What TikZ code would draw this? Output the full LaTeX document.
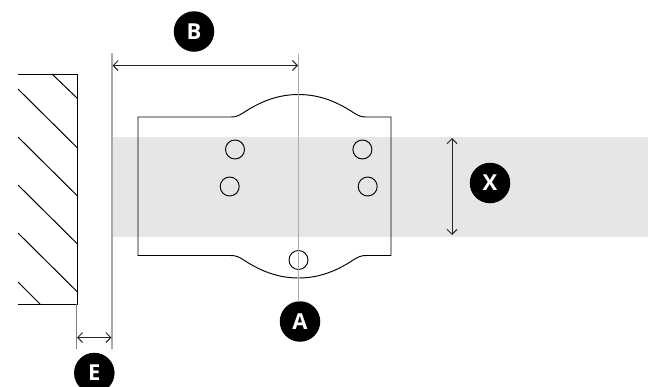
\documentclass[tikz,border=0pt]{standalone}
\usepackage{fontspec}
\setmainfont{Open Sans}
\usetikzlibrary{arrows.meta}
\definecolor{bandgray}{HTML}{E5E6E8}
\tikzset{
  hatchline/.style={draw=black,line width=1pt},
  plate/.style={draw=black,line width=0.95pt},
  guide/.style={draw=black!33,line width=1.1pt},
  guidethin/.style={draw=black!50,line width=0.7pt},
  dimline/.style={draw=black!85,line width=1pt,{Straight Barb[length=5pt,width=10pt,line width=0.9pt]}-{Straight Barb[length=5pt,width=10pt,line width=0.9pt]}},
  hole/.style={circle,draw=black,line width=0.95pt,minimum size=19pt,inner sep=0pt},
  badge/.style={circle,fill=black,text=white,minimum size=40.5pt,inner sep=0pt,font=\fontsize{22}{22}\selectfont\bfseries},
}
\begin{document}
\begin{tikzpicture}[x=1pt,y=-1pt]
\useasboundingbox (0,0) rectangle (648,386);
\fill[bandgray] (112,137) rectangle (648,237);
% wall
\draw[hatchline] (18,74) -- (77,74) -- (77,304) -- (18,304);
\draw[hatchline] (52,74) -- (77,98);
\foreach \y in {89,137,185,233} \draw[hatchline] (18,\y) -- (77,\y+58.5);
\draw[hatchline] (18,282) -- (40,304);
% plate
\draw[plate] (138,117) -- (231,117)
  .. controls (236,117) and (239,115.5) .. (243,113)
  .. controls (258,103) and (276,94.5) .. (298.5,94.5)
  .. controls (321,94.5) and (339,103) .. (354,113)
  .. controls (358,115.5) and (361,117) .. (366,117)
  -- (391,117) -- (391,255.5) -- (366,255.5)
  .. controls (361,255.5) and (358,257) .. (354,259.5)
  .. controls (339,269.5) and (321,278) .. (298.5,278)
  .. controls (276,278) and (258,269.5) .. (243,259.5)
  .. controls (239,257) and (236,255.5) .. (231,255.5)
  -- (138,255.5) -- cycle;
% guides
\coordinate (gt) at (112,53); \coordinate (gb) at (112,349);
\coordinate (ct) at (298.5,54); \coordinate (et) at (76.8,304); \coordinate (eb) at (76.8,349);
\draw[guide] (gt) -- (gb);
\draw[guidethin] (et) -- (eb);
% holes
\node[hole] (h1) at (235,149.5) {};
\node[hole] (h2) at (229.7,186.5) {};
\node[hole] (h3) at (362.4,149.5) {};
\node[hole] (h4) at (367.7,186.5) {};
\node[hole] (h5) at (298.5,260) {};
% badges
\node[badge] (A) at (300,321.5) {A};
\node[badge] (B) at (194,31.5) {B};
\node[badge] (X) at (490,183) {X};
\node[badge] (E) at (94.3,373) {E};
\draw[guide] (ct) -- (298.5,302);
% dimensions
\coordinate (b1) at (112.5,65.5); \coordinate (b2) at (298,65.5);
\coordinate (e1) at (77,337.5); \coordinate (e2) at (111.5,337.5);
\coordinate (x1) at (452,138); \coordinate (x2) at (452,235);
\draw[dimline] (b1) -- (b2);
\draw[dimline] (e1) -- (e2);
\draw[dimline] (x1) -- (x2);
\end{tikzpicture}
\end{document}
